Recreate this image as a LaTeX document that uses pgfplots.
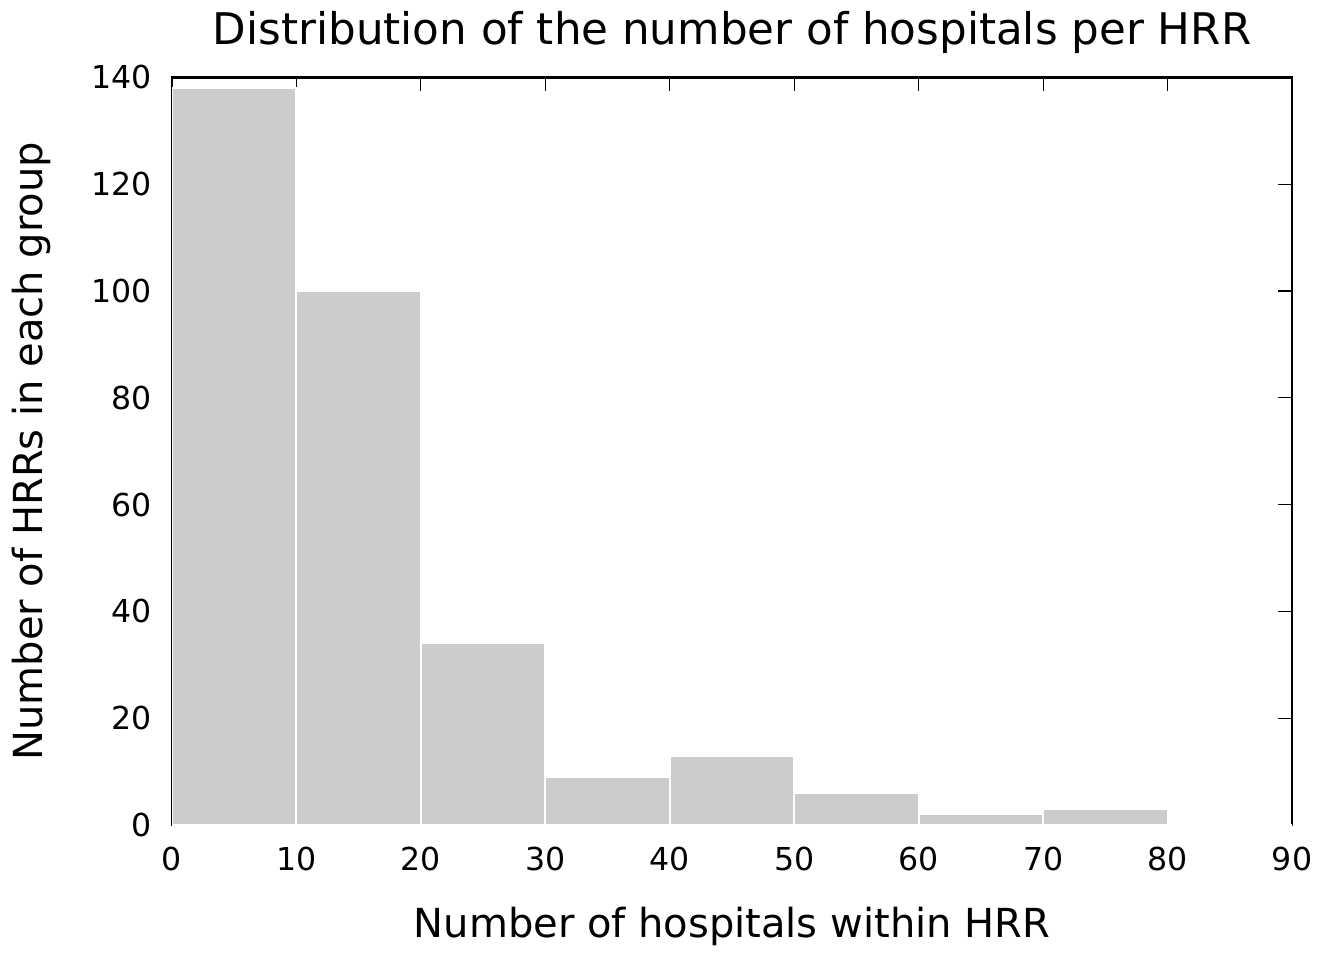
\documentclass[border=0pt]{standalone}
\usepackage{pgfplots}
\pgfplotsset{compat=1.18}
\usepackage{fontspec}
\setmainfont{DejaVu Sans}

\begin{document}
\begin{tikzpicture}
\begin{axis}[
    name=ax,
    scale only axis,
    width=560pt, height=373.75pt,
    xmin=0, xmax=90,
    ymin=0, ymax=140,
    xtick={0,10,...,90},
    ytick={0,20,...,140},
    tick align=inside,
    major tick length=7pt,
    every tick/.style={black, line width=0.6pt},
    axis line style={line width=1.2pt},
    /pgf/number format/assume math mode=true,
    ticklabel style={font=\fontsize{15.8}{19}\selectfont},
    xticklabel style={anchor=base, yshift=-22.5pt},
    yticklabel style={anchor=east, xshift=-6.5pt},
    title={Distribution of the number of hospitals per HRR},
    title style={font=\fontsize{21.8}{26}\selectfont, at={(axis description cs:0.5,1)}, anchor=base, yshift=10.5pt},
    xlabel={Number of hospitals within HRR},
    xlabel style={font=\fontsize{20}{24}\selectfont, at={(axis description cs:0.5,0)}, anchor=base, yshift=-56pt},
    ylabel={Number of HRRs in each group},
    ylabel style={font=\fontsize{20}{24}\selectfont, at={(axis description cs:0,0.5)}, anchor=base, yshift=64.5pt},
]
\addplot[ybar, bar width=10, bar shift=0pt, fill=black!20, draw=white, line width=1pt]
    coordinates {
    (5,138)(15,100)(25,34)(35,9)(45,13)(55,6)(65,2)(75,3)(85,0)
    };
\end{axis}
\pgfresetboundingbox
\path ([shift={(-86pt,-63.5pt)}]ax.south west) rectangle ([shift={(20pt,38.75pt)}]ax.north east);
\end{tikzpicture}
\end{document}
